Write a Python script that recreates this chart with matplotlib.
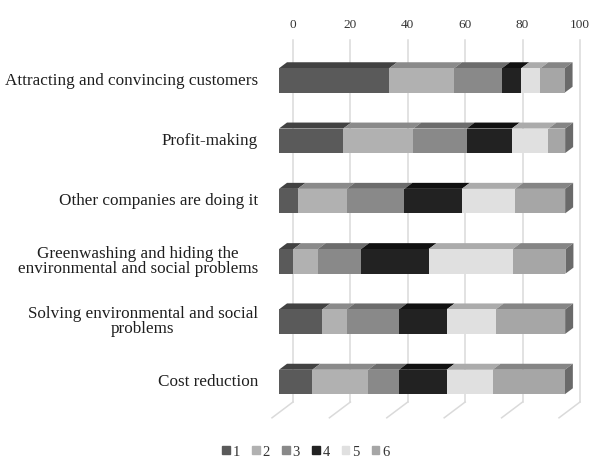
import numpy as np
import matplotlib.pyplot as plt
from matplotlib.patches import Polygon

plt.rcParams['font.family'] = ['Liberation Serif', 'DejaVu Serif']

# Survey motives and the share (%) of answers for each rating 1..6
categories = [
    "Attracting and convincing customers",
    "Profit-making",
    "Other companies are doing it",
    "Greenwashing and hiding the\nenvironmental and social problems",
    "Solving environmental and social\nproblems",
    "Cost reduction",
]
series_names = ["1", "2", "3", "4", "5", "6"]
values = np.array([
    [38.4, 22.6, 16.7, 6.7, 6.7, 8.4],
    [22.4, 24.4, 18.6, 15.7, 12.8, 5.8],
    [6.5, 17.1, 20.1, 20.0, 18.6, 17.4],
    [5.0, 8.5, 15.1, 23.5, 29.3, 18.4],
    [15.1, 8.5, 18.2, 16.6, 17.1, 24.2],
    [11.6, 19.5, 10.7, 16.6, 16.0, 25.2],
])
tick_values = [0, 20, 40, 60, 80, 100]

front_colors = ["#5a5a5a", "#b1b1b1", "#898989", "#222222", "#e0e0e0", "#a6a6a6"]
top_colors = ["#424242", "#8a8a8a", "#6c6c6c", "#111111", "#ababab", "#858585"]
side_color = "#6a6a6a"

W, H = 590, 463
fig = plt.figure(figsize=(W / 100, H / 100), dpi=100)
ax = fig.add_axes([0, 0, 1, 1])
ax.set_axis_off()

# pixel geometry of the front plane
x0_px, sx = 279, 2.87          # value 0 position and px per unit
row0_px, sy = 80.5, 60.3       # first row center and px per row
ax.set_xlim(-x0_px / sx, (W - x0_px) / sx)
ax.set_ylim((H - row0_px) / sy, -row0_px / sy)


def off(dx_px, dy_px):
    return dx_px / sx, dy_px / sy


bar_h = 24.5 / sy
bdx, bdy = off(8, -6)        # bar depth
wdx, wdy = off(14, -10.5)    # back wall
fdx, fdy = off(-7, 5.3)      # front edge of floor
floor_y = (412.5 - row0_px) / sy
top_y = (50.5 - row0_px) / sy

# gridlines on the back wall and the floor
for v in tick_values:
    ax.plot([v + wdx, v + wdx], [top_y + wdy, floor_y + wdy], color="#dadada", lw=1.1, zorder=1)
    ax.plot([v + wdx, v + fdx], [floor_y + wdy, floor_y + fdy], color="#dadada", lw=1.1, zorder=1)
    ax.text(v + wdx, top_y + wdy - 15 / sy, str(v), ha="center", va="center",
            fontsize=9.5, color="#333333")

# stacked 3d bars
for i, row in enumerate(values):
    yt = i - bar_h / 2
    left = 0
    for j, w in enumerate(row):
        ax.add_patch(Polygon([(left, yt), (left + w, yt), (left + w + bdx, yt + bdy), (left + bdx, yt + bdy)],
                             closed=True, facecolor=top_colors[j], edgecolor="none", zorder=3))
        ax.barh(i, w, left=left, height=bar_h, color=front_colors[j], edgecolor="none", zorder=4)
        left += w
    ax.add_patch(Polygon([(left, yt), (left + bdx, yt + bdy), (left + bdx, yt + bar_h + bdy), (left, yt + bar_h)],
                         closed=True, facecolor=side_color, edgecolor="none", zorder=3))
    ax.text(-21 / sx, i, categories[i], ha="right", va="center", multialignment="center",
            fontsize=12.3, color="#1e1e1e", linespacing=0.95)

# legend along the bottom
handles = [plt.Rectangle((0, 0), 1, 1, color=c) for c in front_colors]
fig.legend(handles, series_names, loc="center", bbox_to_anchor=(306 / W, 1 - 452 / H),
           ncol=6, frameon=False, fontsize=10.5, handlelength=0.5, handleheight=0.5,
           handletextpad=0.2, columnspacing=0.85, labelcolor="#333333")

fig.savefig("out.png", dpi=100)
